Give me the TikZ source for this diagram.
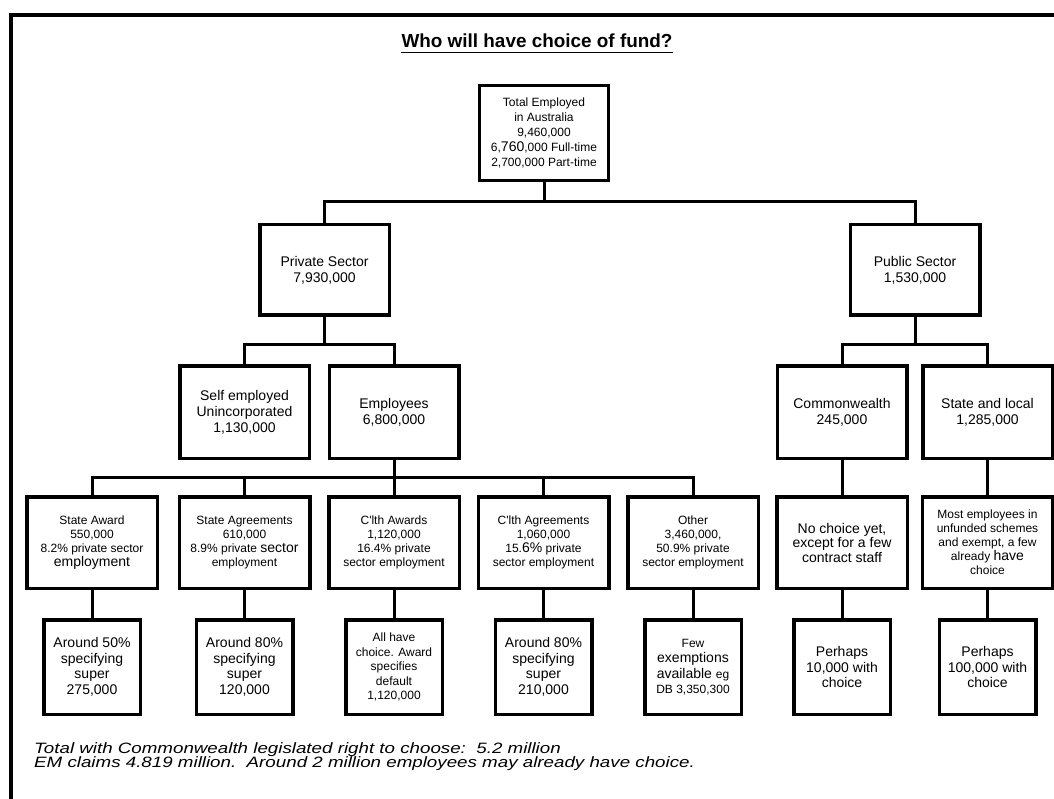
\documentclass[tikz,border=0pt]{standalone}
\usepackage{fontspec}
\setmainfont{Liberation Sans}
\newfontfamily\widesans[FakeStretch=1.25]{Liberation Sans}
\newcommand\fsz[2]{\fontsize{#1}{#2}\selectfont}
\begin{document}
\begin{tikzpicture}[x=1pt,y=-1pt,
        box/.style={draw,line width=3.5pt,align=center,inner sep=0pt},
        topbox/.style={box,minimum width=129pt,minimum height=95pt,font=\fsz{12}{15}},
        sectbox/.style={box,minimum width=129.5pt,minimum height=90.5pt,font=\fsz{14}{16}},
        midbox/.style={box,minimum width=129.5pt,minimum height=92.5pt,font=\fsz{14}{16}},
        grpbox/.style={box,minimum width=130.5pt,minimum height=91.5pt,font=\fsz{12}{14}},
        endbox/.style={box,minimum width=96.5pt,minimum height=94.5pt,font=\fsz{14}{15.5}},
        foot/.style={anchor=base west,inner sep=0pt,font=\widesans\fsz{15}{15}\itshape},
        link/.style={line width=3pt}]
                    \clip (0,0) rectangle (1054,799);
                    \draw[line width=3.5pt] (11,15) rectangle (1075,820);

                    \node[anchor=base,inner sep=0pt,font=\fsz{18.9}{20}\bfseries] (title) at (537,48) {Who will have choice of fund?};
                    \draw[line width=1.8pt] ([yshift=-4.5pt]title.base west) -- ([yshift=-4.5pt]title.base east);

                    \node[topbox] (top) at (544,133) {Total Employed\\in Australia\\9,460,000\\6,{\fsz{14}{15}760},000 Full-time\\2,700,000 Part-time};

                    \node[sectbox] (priv) at (324.5,270) {Private Sector\\7,930,000};
                    \node[sectbox] (pub) at (915,270) {Public Sector\\1,530,000};

                    \node[midbox] (self) at (244.5,412) {Self employed\\Unincorporated\\1,130,000};
                    \node[midbox] (empl) at (394,412) {Employees\\6,800,000};
                    \node[midbox] (cw) at (842,412) {Commonwealth\\245,000};
                    \node[midbox] (sl) at (987.5,412) {State and local\\1,285,000};

                    \node[grpbox] (sa) at (92,542.5) {State Award\\550,000\\8.2\% private sector\\{\fsz{14}{14}employment}};
                    \node[grpbox] (sag) at (244.5,542.5) {State Agreements\\610,000\\8.9\% private {\fsz{14}{14}sector}\\employment};
                    \node[grpbox] (ca) at (394,542.5) {C\textquotesingle lth Awards\\1,120,000\\16.4\% private\\sector employment};
                    \node[grpbox] (cag) at (543.5,542.5) {C\textquotesingle lth Agreements\\1,060,000\\15.{\fsz{14}{14}6\%} private\\sector employment};
                    \node[grpbox] (oth) at (693,542.5) {Other\\3,460,000,\\50.9\% private\\sector employment};
                    \node[grpbox,font=\fsz{14}{14.5}] (cwn) at (842,542.5) {No choice yet,\\except for a few\\contract staff};
                    \node[grpbox] (sln) at (987.5,542.5) {Most employees in\\unfunded schemes\\and exempt, a few\\already {\fsz{14}{14}have}\\choice};

                    \node[endbox] (sa5) at (92,667) {Around 50\%\\specifying\\super\\275,000};
                    \node[endbox] (sag5) at (244.5,667) {Around 80\%\\specifying\\super\\120,000};
                    \node[endbox,font=\fsz{12}{14.5}] (ca5) at (394,667) {All have\\choice. Award\\specifies\\default\\1,120,000};
                    \node[endbox] (cag5) at (543.5,667) {Around 80\%\\specifying\\super\\210,000};
                    \node[endbox] (oth5) at (693,667) {{\fsz{12}{14}Few}\\exemptions\\available {\fsz{12}{14}eg}\\{\fsz{12}{14}DB 3,350,300}};
                    \node[endbox] (cwn5) at (842,667) {Perhaps\\10,000 with\\choice};
                    \node[endbox] (sln5) at (987.5,667) {Perhaps\\100,000 with\\choice};

                    \coordinate (j1) at (top.south |- 0,202);
                    \draw[link] (top.south) -- (j1);
                    \draw[link] (priv.north) |- (j1) -| (pub.north);

                    \coordinate (j2) at (priv.south |- 0,344);
                    \draw[link] (priv.south) -- (j2);
                    \draw[link] (self.north) |- (j2) -| (empl.north);
                    \coordinate (j3) at (pub.south |- 0,344);
                    \draw[link] (pub.south) -- (j3);
                    \draw[link] (cw.north) |- (j3) -| (sl.north);

                    \coordinate (j4) at (empl.south |- 0,477);
                    \draw[link] (empl.south) -- (j4);
                    \draw[link] (sa.north) |- (j4) -| (oth.north);
                    \draw[link] (sag.north) -- (sag.north |- j4);
                    \draw[link] (ca.north) -- (j4);
                    \draw[link] (cag.north) -- (cag.north |- j4);
                    \draw[link] (cw.south) -- (cwn.north);
                    \draw[link] (sl.south) -- (sln.north);

                    \foreach \a in {sa,sag,ca,cag,oth,cwn,sln}
                        \draw[link] (\a.south) -- (\a5.north);

                    \node[foot] (foot1) at (34,753) {Total with Commonwealth legislated right to choose:\ \ 5.2 million};
                    \node[foot] (foot2) at (34,767) {EM claims 4.819 million.\ \ Around 2 million employees may already have choice.};
                \end{tikzpicture}
\end{document}
